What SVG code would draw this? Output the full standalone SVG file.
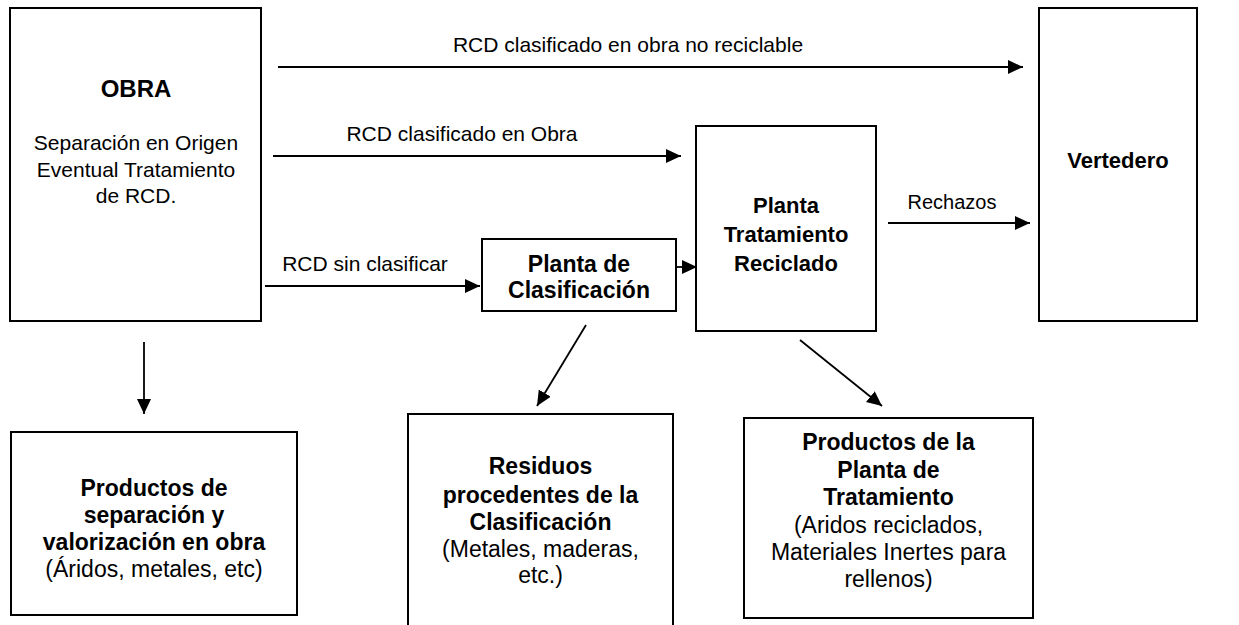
<svg xmlns="http://www.w3.org/2000/svg" width="1239" height="625" viewBox="0 0 1239 625">
<style>
.box{fill:#fff;stroke:#000;stroke-width:2}
.t{font-family:"Liberation Sans",Arial,sans-serif;fill:#000;text-anchor:middle}
.b{font-weight:bold}
.conn line{stroke:#000;stroke-width:1.8;marker-end:url(#ah)}
</style>
<defs>
<marker id="ah" markerUnits="userSpaceOnUse" markerWidth="16" markerHeight="15" refX="15" refY="7" orient="auto">
<path d="M0,0 L15,7 L0,14 z" fill="#000"/>
</marker>
</defs>
<rect width="1239" height="625" fill="#fff"/>
<g id="obra">
<rect class="box" x="10" y="8" width="251" height="313"/>
<text class="t b" x="136" y="97" font-size="24">OBRA</text>
<text class="t" x="136" y="150" font-size="21">Separación en Origen</text>
<text class="t" x="136" y="176.5" font-size="21">Eventual Tratamiento</text>
<text class="t" x="136" y="203" font-size="21">de RCD.</text>
</g>
<g id="planta-clasificacion">
<rect class="box" x="482" y="239" width="194" height="72"/>
<text class="t b" x="579" y="272" font-size="23">Planta de</text>
<text class="t b" x="579" y="298" font-size="23">Clasificación</text>
</g>
<g id="planta-tratamiento">
<rect class="box" x="696" y="126" width="180" height="205"/>
<text class="t b" x="786" y="213" font-size="22">Planta</text>
<text class="t b" x="786" y="242" font-size="22">Tratamiento</text>
<text class="t b" x="786" y="270.5" font-size="22">Reciclado</text>
</g>
<g id="vertedero">
<rect class="box" x="1039" y="8" width="158" height="313"/>
<text class="t b" x="1118" y="168" font-size="22">Vertedero</text>
</g>
<g id="productos-separacion">
<rect class="box" x="11" y="432" width="286" height="183"/>
<text class="t b" x="154" y="495.5" font-size="23">Productos de</text>
<text class="t b" x="154" y="522.5" font-size="23">separación y</text>
<text class="t b" x="154" y="550" font-size="23">valorización en obra</text>
<text class="t" x="154" y="576.5" font-size="23">(Áridos, metales, etc)</text>
</g>
<g id="residuos">
<rect class="box" x="408" y="414" width="265" height="230"/>
<text class="t b" x="540.5" y="474" font-size="23">Residuos</text>
<text class="t b" x="540.5" y="503" font-size="23">procedentes de la</text>
<text class="t b" x="540.5" y="530" font-size="23">Clasificación</text>
<text class="t" x="540.5" y="556.5" font-size="23">(Metales, maderas,</text>
<text class="t" x="540.5" y="582.5" font-size="23">etc.)</text>
</g>
<g id="productos-planta">
<rect class="box" x="744" y="418" width="289" height="200"/>
<text class="t b" x="888.5" y="450" font-size="23">Productos de la</text>
<text class="t b" x="888.5" y="478" font-size="23">Planta de</text>
<text class="t b" x="888.5" y="505" font-size="23">Tratamiento</text>
<text class="t" x="888.5" y="533" font-size="23">(Aridos reciclados,</text>
<text class="t" x="888.5" y="560" font-size="23">Materiales Inertes para</text>
<text class="t" x="888.5" y="587" font-size="23">rellenos)</text>
</g>
<g id="connectors" class="conn">
<line x1="278" y1="67" x2="1023" y2="67"/>
<line x1="273" y1="156" x2="681" y2="156"/>
<line x1="265" y1="286" x2="480" y2="286"/>
<line x1="677" y1="267" x2="697" y2="267"/>
<line x1="888" y1="223" x2="1030" y2="223"/>
<line x1="144" y1="342" x2="144" y2="414"/>
<line x1="586" y1="325" x2="537" y2="406"/>
<line x1="800" y1="340" x2="882" y2="406"/>
<text class="t" x="628" y="52" font-size="21">RCD clasificado en obra no reciclable</text>
<text class="t" x="462" y="141" font-size="21">RCD clasificado en Obra</text>
<text class="t" x="365" y="271" font-size="21">RCD sin clasificar</text>
<text class="t" x="952" y="209" font-size="20">Rechazos</text>
</g>
</svg>
